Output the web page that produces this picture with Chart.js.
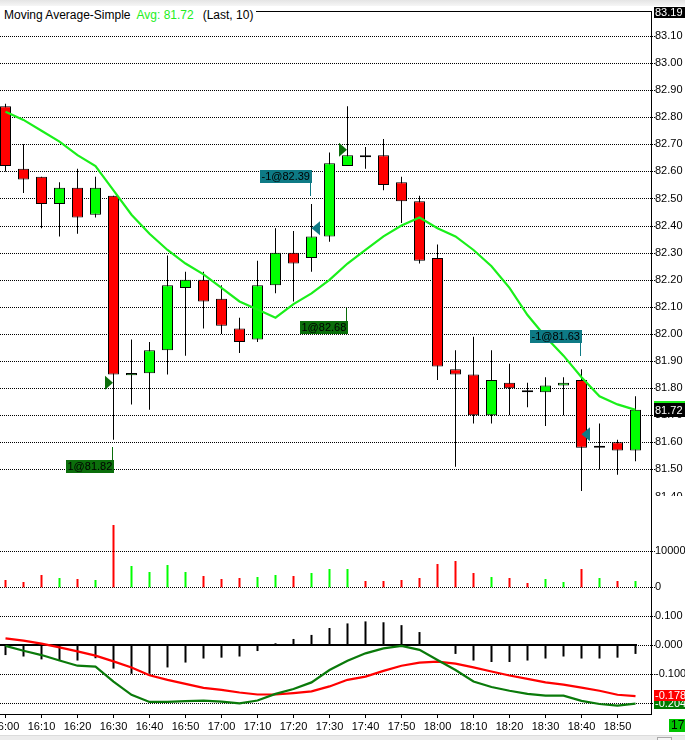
<!DOCTYPE html>
<html><head><meta charset="utf-8">
<script src="https://cdn.jsdelivr.net/npm/chart.js@4.4.0/dist/chart.umd.min.js"></script>
<style>
html,body{margin:0;padding:0;background:#fff;width:685px;height:740px;overflow:hidden;position:relative;font-family:'Liberation Sans',Arial,sans-serif;}
canvas{position:absolute;left:0;display:block}
#c1{top:0} #c2{top:496px} #c3{top:601px}
#topband{position:absolute;left:0;top:0;width:685px;height:6px;background:linear-gradient(#e4e4e4,#f6f6f6);z-index:5}
#botband{position:absolute;left:0;top:735px;width:685px;height:5px;background:#ececec;border-top:1px solid #dcdcdc;z-index:5}
#scroll{position:absolute;left:657px;top:737px;width:13px;height:6px;border:1px solid #a8a8a8;background:#f6f6f6;z-index:6}
#legend{position:absolute;left:0;top:8px;height:14px;line-height:14px;font-size:12px;background:#fff;padding:0 3px 0 4px;z-index:4;white-space:nowrap;color:#000}
#avg{color:#22ee22;margin-left:6px}
#last{margin-left:9px}
</style></head>
<body>
<div id="topband"></div>
<div id="legend">Moving Average-Simple<span id="avg"></span><span id="last"></span></div>
<canvas id="c1" width="685" height="496"></canvas>
<canvas id="c2" width="685" height="105"></canvas>
<canvas id="c3" width="685" height="134"></canvas>
<div id="botband"></div><div id="scroll"></div>
<script>
// ---------------- DATA ----------------
const times = ['16:00','16:05','16:10','16:15','16:20','16:25','16:30','16:35','16:40','16:45','16:50','16:55',
               '17:00','17:05','17:10','17:15','17:20','17:25','17:30','17:35','17:40','17:45','17:50','17:55',
               '18:00','18:05','18:10','18:15','18:20','18:25','18:30','18:35','18:40','18:45','18:50','18:55'];
const opens  = [82.84,82.61,82.58,82.48,82.54,82.44,82.51,81.848,81.855,81.94,82.17,82.20,
                82.13,82.02,81.98,82.18,82.30,82.28,82.36,82.62,82.66,82.66,82.56,82.49,
                82.28,81.87,81.85,81.70,81.82,81.785,81.785,81.81,81.83,81.58,81.60,81.57];
const highs  = [82.85,82.70,82.58,82.56,82.61,82.58,82.51,81.98,81.97,82.29,82.23,82.23,
                82.18,82.06,82.27,82.39,82.38,82.48,82.67,82.84,82.69,82.72,82.58,82.51,
                82.33,81.94,81.99,81.94,81.89,81.82,81.84,81.84,81.87,81.67,81.61,81.77];
const lows   = [82.60,82.52,82.39,82.36,82.37,82.43,81.61,81.74,81.72,81.85,81.92,82.02,
                82.00,81.93,81.97,82.15,82.12,82.23,82.34,82.62,82.61,82.53,82.41,82.26,
                81.83,81.51,81.67,81.67,81.70,81.73,81.66,81.70,81.42,81.50,81.48,81.53];
const closes = [82.62,82.57,82.48,82.54,82.43,82.54,81.85,81.856,81.94,82.18,82.20,82.12,
                82.03,81.97,82.18,82.30,82.26,82.36,82.63,82.66,82.652,82.55,82.49,82.27,
                81.88,81.85,81.70,81.83,81.80,81.785,81.81,81.82,81.58,81.587,81.57,81.72];
const maValues = [82.82,82.79,82.75,82.71,82.66,82.62,82.53,82.44,82.37,82.31,82.26,82.22,
                  82.17,82.12,82.09,82.06,82.11,82.15,82.20,82.26,82.31,82.36,82.40,82.43,
                  82.39,82.36,82.31,82.25,82.17,82.07,81.99,81.92,81.84,81.77,81.74,81.72];
const maPeriod = 10;
const volumes = [2000,1450,3360,2540,2270,2000,17020,5820,4180,6090,4180,3090,
                 2270,2540,2810,3360,3090,3910,5000,5000,1720,1720,2000,2540,
                 6370,7180,3910,2810,2540,1180,2270,1450,5000,2540,1720,1720];
const macdHist = [-0.035,-0.040,-0.050,-0.052,-0.054,-0.046,-0.082,-0.100,-0.100,-0.078,-0.061,-0.047,
                  -0.044,-0.040,-0.021,0.006,0.021,0.035,0.059,0.075,0.082,0.079,0.069,0.045,
                  0.000,-0.031,-0.054,-0.059,-0.059,-0.054,-0.047,-0.040,-0.047,-0.047,-0.044,-0.031];
const macdLine = [-0.003,-0.020,-0.035,-0.054,-0.072,-0.075,-0.127,-0.173,-0.198,-0.198,-0.195,-0.193,
                  -0.197,-0.203,-0.193,-0.170,-0.153,-0.130,-0.087,-0.055,-0.029,-0.012,-0.003,-0.017,
                  -0.052,-0.087,-0.127,-0.146,-0.159,-0.170,-0.176,-0.176,-0.194,-0.205,-0.211,-0.204];
const signalLine = [0.023,0.015,0.005,-0.008,-0.022,-0.037,-0.057,-0.078,-0.105,-0.121,-0.135,-0.149,
                    -0.156,-0.165,-0.172,-0.172,-0.167,-0.161,-0.144,-0.121,-0.110,-0.090,-0.072,-0.061,
                    -0.058,-0.065,-0.078,-0.092,-0.106,-0.118,-0.130,-0.138,-0.148,-0.159,-0.173,-0.178];
const priceTicks = [81.4,81.5,81.6,81.7,81.8,81.9,82.0,82.1,82.2,82.3,82.4,82.5,82.6,82.7,82.8,82.9,83.0,83.1];
const volumeTicks = [0, 10000];
const macdTicks = [0.1, 0, -0.1, -0.2];
const trades = [
  {bar: 6,  price: 81.82, qty: 1},
  {bar: 17, price: 82.39, qty: -1},
  {bar: 19, price: 82.68, qty: 1},
  {bar: 32, price: 81.63, qty: -1}
];
const cornerTimeLabel = '17';

// ---------------- LAYOUT / STYLE ----------------
const LAYOUT = {
  barPx: 18, firstBarPx: 5.5, plotRight: 651, axisW: 34,
  priceRange: [81.402, 83.192], volRange: [-3743, 24945], macdRange: [-0.2398, 0.1529],
  tradeLabelPrice: [81.535, 82.557, 82.049, 81.968]
};
const FONT = "'Liberation Sans', Arial, sans-serif";
const C = {up:'#00ff00', down:'#ff0000', ma:'#1aef1a', buy:'#0b6e0b', sell:'#0e7a85',
           macd:'#0a7a0a', signal:'#ff0000'};
Chart.defaults.font.family = FONT;
Chart.defaults.font.size = 11;
Chart.defaults.color = '#000';
Chart.defaults.animation = false;

document.getElementById('avg').textContent = 'Avg: ' + maValues[maValues.length-1].toFixed(2);
document.getElementById('last').textContent = '(Last, ' + maPeriod + ')';

const xMin = -LAYOUT.firstBarPx / LAYOUT.barPx;
const xMax = xMin + LAYOUT.plotRight / LAYOUT.barPx;
const dirColor = (i, eq) => closes[i] > opens[i] ? C.up : (closes[i] < opens[i] ? C.down : eq);
const candleColors = opens.map((o,i) => dirColor(i, '#000'));
const volColors = volumes.map((v,i) => dirColor(i, C.down));
const pts = arr => arr.map((v,i) => ({x:i, y:v}));

function xHidden(){ return {type:'linear', min:xMin, max:xMax, offset:false, display:false}; }
function yAxis(range, tickVals, fmt){
  return {
    type:'linear', position:'right', min:range[0], max:range[1],
    afterBuildTicks: s => { s.ticks = tickVals.map(v => ({value:v})); },
    afterFit: s => { s.width = LAYOUT.axisW; s.paddingTop = 0; s.paddingBottom = 0; },
    grid:{display:false, drawTicks:false},
    border:{display:true, color:'#000', width:1},
    ticks:{padding:4, color:'#000', font:{size:11, family:FONT}, callback: v => fmt(v)}
  };
}
function drawGrid(chart){
  const {ctx, chartArea:a, scales:{y}} = chart;
  ctx.save();
  ctx.fillStyle = '#000';
  const x0 = Math.round(a.left), x1 = Math.round(a.right) + 4;
  y.ticks.forEach(t => {
    const py = Math.round(y.getPixelForValue(t.value));
    for (let xx = x0; xx < x1; xx += 2) ctx.fillRect(xx, py, 1, 1);
  });
  ctx.restore();
}
function valueBox(ctx, x, yc, h, bg, fg, text){
  ctx.fillStyle = bg; ctx.fillRect(x, Math.round(yc - h/2), 40, h);
  ctx.fillStyle = fg; ctx.font = '11px ' + FONT; ctx.textAlign = 'left'; ctx.textBaseline = 'middle';
  ctx.fillText(text, x + 1, Math.round(yc - h/2) + h/2 + 0.5);
}
const baseOpts = extra => Object.assign({
  responsive:false, animation:false, devicePixelRatio: window.devicePixelRatio || 1,
  plugins:{legend:{display:false}, tooltip:{enabled:false}},
  layout:{padding:0, autoPadding:false}
}, extra);

// ---------------- PRICE CHART ----------------
const priceDeco = {
  id:'priceDeco',
  beforeDatasetsDraw(chart){ drawGrid(chart); },
  afterDraw(chart){
    const {ctx, chartArea:a, scales:{x, y}} = chart;
    ctx.save();
    ctx.fillStyle = '#000';
    ctx.fillRect(0, Math.round(a.top), Math.round(a.right) + 1, 1);
    ctx.font = '11px ' + FONT; ctx.textBaseline = 'middle'; ctx.textAlign = 'left';
    trades.forEach((t, k) => {
      const px = x.getPixelForValue(t.bar);
      const py = y.getPixelForValue(t.price);
      const col = t.qty > 0 ? C.buy : C.sell;
      ctx.fillStyle = col;
      ctx.beginPath();
      if (t.qty > 0) { ctx.moveTo(px - 8.5, py - 7); ctx.lineTo(px - 8.5, py + 7); ctx.lineTo(px - 0.5, py); }
      else { ctx.moveTo(px + 8.5, py - 7); ctx.lineTo(px + 8.5, py + 7); ctx.lineTo(px, py); }
      ctx.closePath(); ctx.fill();
      const txt = t.qty + '@' + t.price.toFixed(2);
      const w = Math.ceil(ctx.measureText(txt).width) + 3;
      const right = Math.round(px + 0.5);
      const ly = Math.round(y.getPixelForValue(LAYOUT.tradeLabelPrice[k]));
      const h = 13;
      const top = t.qty > 0 ? ly : ly - h;
      ctx.fillStyle = col;
      ctx.fillRect(right - w, top, w, h);
      if (t.qty > 0) ctx.fillRect(Math.floor(px) - 1, top - 13, 1, 13);
      else ctx.fillRect(Math.floor(px) - 1, top + h, 1, 13);
      ctx.fillStyle = '#000';
      ctx.fillText(txt, right - w + 1.5, top + h/2 + 0.5);
    });
    const bx = Math.round(a.right) + 3;
    valueBox(ctx, bx, y.getPixelForValue(y.max) + 1, 11, '#000', '#fff', y.max.toFixed(2));
    const lastClose = closes[closes.length-1];
    const yc = y.getPixelForValue(lastClose);
    ctx.fillStyle = C.ma; ctx.fillRect(bx, Math.round(yc - 9), 40, 3);
    valueBox(ctx, bx, yc, 14, '#000', '#fff', lastClose.toFixed(2));
    ctx.restore();
  }
};
new Chart(document.getElementById('c1'), {
  type:'bar',
  data:{datasets:[
    {type:'line', data:pts(maValues), borderColor:C.ma, borderWidth:2.2, pointRadius:0, tension:0, order:0},
    {type:'bar', data:opens.map((o,i) => ({x:i, y:[o, closes[i]]})), backgroundColor:candleColors,
     borderColor:'#000', borderWidth:1, borderSkipped:false, barThickness:11, minBarLength:2,
     grouped:false, inflateAmount:0, order:1},
    {type:'bar', data:lows.map((l,i) => ({x:i, y:[l, highs[i]]})), backgroundColor:'#000',
     borderWidth:0, barThickness:1, grouped:false, inflateAmount:0, order:2}
  ]},
  options: baseOpts({
    layout:{padding:{top:11, left:0, right:0, bottom:0}, autoPadding:false},
    scales:{x:xHidden(), y:yAxis(LAYOUT.priceRange, priceTicks, v => v.toFixed(2))}
  }),
  plugins:[priceDeco]
});

// ---------------- VOLUME CHART ----------------
new Chart(document.getElementById('c2'), {
  type:'bar',
  data:{datasets:[
    {type:'bar', data:pts(volumes), backgroundColor:volColors, borderWidth:0, barThickness:2,
     grouped:false, inflateAmount:0}
  ]},
  options: baseOpts({
    scales:{x:xHidden(), y:yAxis(LAYOUT.volRange, volumeTicks, v => String(v))}
  }),
  plugins:[{id:'volGrid', beforeDatasetsDraw(chart){ drawGrid(chart); }}]
});

// ---------------- MACD CHART ----------------
const macdDeco = {
  id:'macdDeco',
  beforeDatasetsDraw(chart){
    drawGrid(chart);
    const {ctx, chartArea:a, scales:{x, y}} = chart;
    const py = Math.round(y.getPixelForValue(0));
    ctx.save(); ctx.fillStyle = '#000';
    ctx.fillRect(a.left, py - 1, Math.round(x.getPixelForValue(macdHist.length - 1)) + 1 - a.left, 2);
    ctx.restore();
  },
  afterDraw(chart){
    const {ctx, chartArea:a, scales:{y}} = chart;
    ctx.save();
    const bx = Math.round(a.right) + 3;
    const m = macdLine[macdLine.length-1], s = signalLine[signalLine.length-1];
    valueBox(ctx, bx, y.getPixelForValue(m), 11, '#007a00', '#fff', m.toFixed(3));
    valueBox(ctx, bx, y.getPixelForValue(s) - 1, 11, '#ff0000', '#fff', s.toFixed(3));
    ctx.fillStyle = '#00c400'; ctx.fillRect(Math.round(a.right) + 18, Math.round(a.bottom) + 5, 20, 13);
    ctx.fillStyle = '#000'; ctx.font = '12px ' + FONT; ctx.textAlign = 'left'; ctx.textBaseline = 'middle';
    ctx.fillText(cornerTimeLabel, Math.round(a.right) + 20, Math.round(a.bottom) + 12);
    ctx.restore();
  }
};
new Chart(document.getElementById('c3'), {
  type:'bar',
  data:{datasets:[
    {type:'line', data:pts(macdLine), borderColor:C.macd, borderWidth:2.2, pointRadius:0, tension:0, order:0},
    {type:'line', data:pts(signalLine), borderColor:C.signal, borderWidth:2.2, pointRadius:0, tension:0, order:1},
    {type:'bar', data:pts(macdHist), backgroundColor:'#000', borderWidth:0, barThickness:2,
     grouped:false, inflateAmount:0, order:2}
  ]},
  options: baseOpts({
    scales:{
      x:{type:'linear', min:xMin, max:xMax, offset:false, position:'bottom',
         afterBuildTicks: s => { s.ticks = times.map((t,i) => i).filter(i => i % 2 === 0).map(v => ({value:v})); },
         afterFit: s => { s.height = 21; s.paddingLeft = 0; s.paddingRight = 0; },
         grid:{drawOnChartArea:false, drawTicks:true, tickLength:4, color:'#000', lineWidth:1, offset:false},
         border:{display:true, color:'#000', width:1},
         ticks:{autoSkip:false, maxRotation:0, minRotation:0, padding:2, color:'#000',
                font:{size:11, family:FONT}, callback: v => times[v]}},
      y: yAxis(LAYOUT.macdRange, macdTicks, v => v.toFixed(3))
    }
  }),
  plugins:[macdDeco]
});
</script>
</body></html>
